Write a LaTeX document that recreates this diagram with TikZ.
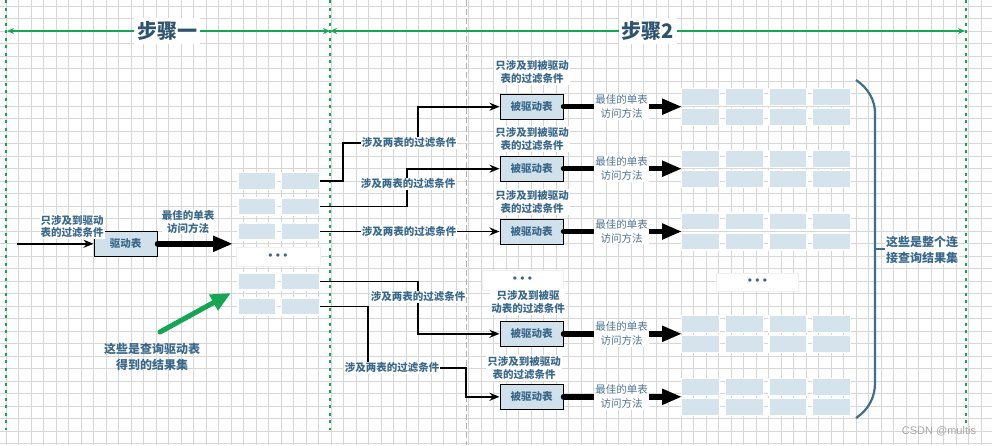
\documentclass[tikz,border=0pt]{standalone}
\usepackage{fontspec}
\setmainfont{Noto Sans CJK SC}
\newfontfamily\wmfont{Liberation Sans}
\usetikzlibrary{arrows.meta}

\definecolor{txtblue}{RGB}{58,104,138}
\definecolor{softblue}{RGB}{78,118,148}
\definecolor{cellfill}{RGB}{212,227,236}
\definecolor{boxfill}{RGB}{209,225,235}
\definecolor{stepgreen}{RGB}{20,166,82}
\definecolor{gridgray}{RGB}{214,214,214}
\definecolor{bracecol}{RGB}{62,110,142}

\tikzset{every picture/.style={line width=1pt}}
\tikzset{
  gridline/.style={draw=gridgray,line width=0.6pt},
  cell/.style={fill=cellfill,draw=white,line width=1.2pt,minimum width=38pt,minimum height=17pt,inner sep=0pt},
  dotbox/.style={fill=white,draw=gray!12,line width=0.8pt,inner sep=0pt,text=txtblue,font=\wmfont\fontsize{12}{12}\selectfont},
  tbl/.style={fill=boxfill,draw=black,line width=1pt,minimum width=63pt,minimum height=25pt,inner sep=0pt,text=txtblue,font=\fontsize{10.5}{12}\selectfont\bfseries},
  lbl/.style={fill=white,inner sep=1pt,align=center,text=txtblue,font=\fontsize{10.5}{13.5}\selectfont\bfseries},
  lbltight/.style={lbl,font=\fontsize{10.5}{12}\selectfont\bfseries},
  bestlbl/.style={fill=white,inner sep=1pt,align=center,text=softblue,font=\fontsize{10.5}{14}\selectfont},
  biglbl/.style={fill=white,inner sep=1pt,align=center,text=txtblue,font=\fontsize{12}{16}\selectfont\bfseries},
  titlelbl/.style={fill=white,inner sep=3pt,text=txtblue!80!black,font=\fontsize{20}{22}\selectfont\bfseries},
  conn/.style={draw=black,line width=1.6pt,-{Stealth[length=10pt,width=8pt]}},
  thick/.style={draw=black,line width=5.5pt,line cap=round,-{Triangle[length=20pt,width=15pt]}},
  dimline/.style={draw=stepgreen,line width=2.2pt,{Stealth[length=7pt,width=6pt]}-{Stealth[length=7pt,width=6pt]}},
  stepdash/.style={draw=stepgreen,line width=2.5pt,dash pattern=on 3pt off 4.5pt},
}

\begin{document}
\begin{tikzpicture}[x=1pt,y=1pt,yscale=-1]
\useasboundingbox (0,0) rectangle (992,445);

% Background grid
\foreach \i in {0,...,78} \draw[gridline] ({6+12.5*\i},0) -- ({6+12.5*\i},445);
\foreach \j in {0,...,35} \draw[gridline] (0,{5.8+12.5*\j}) -- (992,{5.8+12.5*\j});

%Dashed Lines
\draw[stepdash] (6,0) -- (6,430);
\draw[stepdash] (330,0) -- (330,430);
\draw[stepdash] (966,0) -- (966,425);
\draw[draw=gray!60,line width=0.8pt,dash pattern=on 6pt off 3pt] (466,0) -- (466,445);

% Step markers
\coordinate (s0) at (7,31);
\coordinate (s1) at (330,31);
\coordinate (s2) at (965,31);
\draw[dimline] (s0) -- (s1);
\draw[dimline] (s1) -- (s2);
\node[titlelbl] (step1) at (167,31) {步骤一};
\node[titlelbl] (step2) at (648,31) {步骤2};

%Shape: Rectangle (driver table)
\node[tbl] (drv) at (125.5,243.8) {驱动表};
% Text Node
\node[lbltight] (inlbl) at (72,226.5) {只涉及到驱动\\表的过滤条件};
\node[lbl,inner sep=0pt] (bestl) at (188,222) {最佳的单表\\访问方法};
%Straight Lines
\coordinate (in0) at (17,243.8);
\draw[conn] (in0) -- (drv.west);
\coordinate (t0) at (233,243.8);
\draw[thick] (drv.east) -- (t0);

% Result set of the driver table
\foreach \r/\y in {1/181,2/206.5,3/231.5,5/281.5,6/306.5} {
  \node[cell] (la\r) at (257,\y) {};
  \node[cell] (lb\r) at (300.5,\y) {};
}
\node[dotbox,minimum width=84pt,minimum height=19pt] (ldots) at (278,256.5) {• • •};

% Driven tables
\node[tbl] (d1) at (531.5,106.7) {被驱动表};
\node[tbl] (d2) at (531.5,168.7) {被驱动表};
\node[tbl] (d3) at (531.5,231.5) {被驱动表};
\node[tbl] (d4) at (531.5,333.8) {被驱动表};
\node[tbl] (d5) at (531.5,396.8) {被驱动表};
\node[dotbox,minimum width=81pt,minimum height=20pt] (mdots) at (522.5,280) {• • •};

% Text Node
\node[lbl] (f1) at (532,72) {只涉及到被驱动\\表的过滤条件};
\node[lbl] (f2) at (532,139) {只涉及到被驱动\\表的过滤条件};
\node[lbl] (f3) at (532,202) {只涉及到被驱动\\表的过滤条件};
\node[lbl] (f4) at (528,302) {只涉及到被驱\\动表的过滤条件};
\node[lbl] (f5) at (524,368) {只涉及到被驱动\\表的过滤条件};

% Join conditions
\coordinate (k1) at (343,143);
\coordinate (k2) at (418,143);
\coordinate (k3) at (407,168.7);
\coordinate (k4) at (418,333.8);
\coordinate (k5) at (368,368);
\coordinate (k6) at (466,368);
\draw[conn] (lb1.east) -| (k1) -- (k2) |- (d1.west);
\draw[conn] (lb2.east) -| (k3) -- (d2.west);
\draw[conn] (lb3.east) -- (d3.west);
\draw[conn] (lb5.east) -| (k4) -- (d4.west);
\draw[conn] (lb6.east) -| (k5) -- (k6) |- (d5.west);
\node[lbl] (j1) at (409,143) {涉及两表的过滤条件};
\node[lbl] (j2) at (408,184) {涉及两表的过滤条件};
\node[lbl] (j3) at (409,231.5) {涉及两表的过滤条件};
\node[lbl] (j4) at (418,297) {涉及两表的过滤条件};
\node[lbl] (j5) at (392,368) {涉及两表的过滤条件};

% Join result set
\foreach \g/\yc in {1/106.7,2/168.7,3/231.5,4/333.8,5/396.8} {
  \foreach \c/\xc in {1/700.5,2/744.5,3/788,4/831.5} {
    \node[cell] (rt\g\c) at (\xc,\yc-10) {};
    \node[cell] (rb\g\c) at (\xc,\yc+10) {};
  }
  \coordinate (t\g) at (682,\yc);
  \draw[thick] (d\g.east) -- (t\g);
  \node[bestlbl] (b\g) at (621.5,\yc) {最佳的单表\\访问方法};
}
\node[dotbox,minimum width=82pt,minimum height=18pt] (rdots) at (757.5,282) {• • •};

%Curve Lines (brace)
\draw[draw=bracecol,line width=2.2pt] (856,80) .. controls (868,88) and (875,100) .. (875,113) -- (875,383) .. controls (875,398) and (868,410) .. (856,418);
\draw[draw=bracecol,line width=2.2pt] (875,249) -- (889,249);
\node[biglbl] (whole) at (922,249.5) {这些是整个连\\接查询结果集};

% Pointer to driver result set
\node[biglbl,fill=none] (drvres) at (152,356.5) {这些是查询驱动表\\得到的结果集};
\coordinate (ga) at (160,332);
\coordinate (gb) at (231,293);
\draw[draw=stepgreen,line width=5pt,line cap=round,-{Triangle[length=20pt,width=17pt]}] (ga) -- (gb);

% Text Node
\node[text=gray!70,font=\wmfont\fontsize{11}{12}\selectfont,inner sep=0pt] (wm) at (939,431) {CSDN @multis};

\end{tikzpicture}
\end{document}
